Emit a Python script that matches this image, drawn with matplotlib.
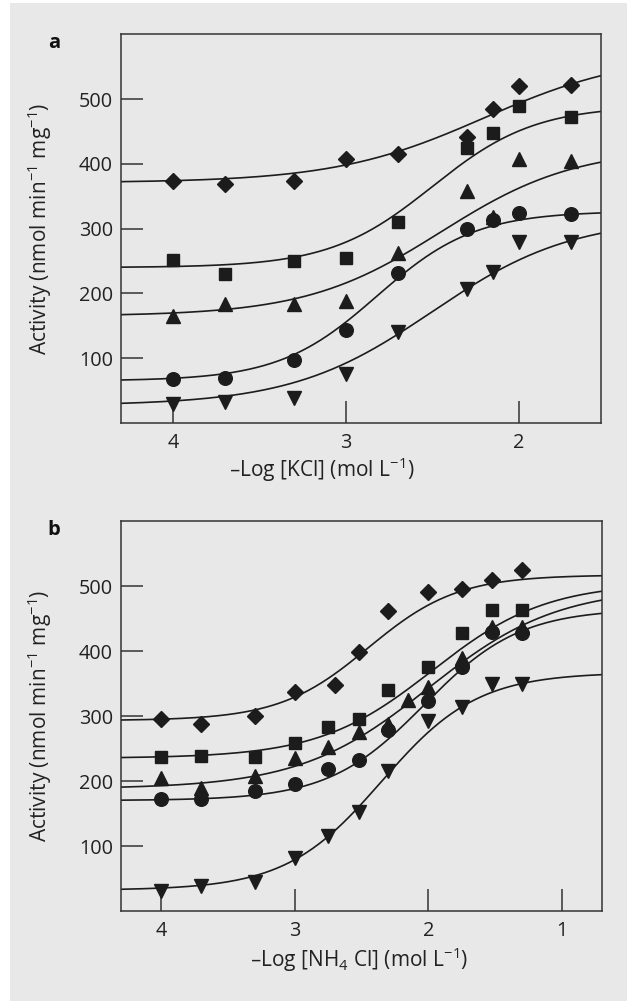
import numpy as np
import matplotlib
matplotlib.use("Agg")
import matplotlib.pyplot as plt
from matplotlib.patches import Rectangle

plt.rcParams['font.family'] = ['Open Sans', 'DejaVu Sans']
plt.rcParams['mathtext.default'] = 'regular'

# ---------------- data: panel a (KCl) ----------------
a_x = [4.0, 3.7, 3.3, 3.0, 2.7, 2.3, 2.15, 2.0, 1.7]
a_diamond = [373, 369, 373, 407, 415, 441, 485, 521, 522]
a_square = [251, 230, 250, 254, 310, 425, 448, 490, 472]
a_triup = [165, 184, 183, 188, 262, 358, 318, 408, 404]
a_circle = [68, 69, 97, 144, 231, 299, 313, 324, 322]
a_tridown = [30, 33, 39, 76, 140, 207, 233, 280, 280]
# fitted curve parameters: bottom, amplitude, midpoint (-log), Hill slope
a_fit_diamond = [371, 200, 2.20, 1.00]
a_fit_square = [240, 250, 2.50, 1.46]
a_fit_triup = [165, 260, 2.45, 1.11]
a_fit_circle = [65, 262, 2.82, 1.53]
a_fit_tridown = [27, 290, 2.50, 1.07]

# ---------------- data: panel b (NH4Cl) ----------------
b_x = [4.0, 3.7, 3.3, 3.0, 2.75, 2.52, 2.3, 2.0, 1.75, 1.52, 1.3]
b_x_diamond = [4.0, 3.7, 3.3, 3.0, 2.7, 2.52, 2.3, 2.0, 1.75, 1.52, 1.3]
b_x_triup = [4.0, 3.7, 3.3, 3.0, 2.75, 2.52, 2.3, 2.15, 2.0, 1.75, 1.52, 1.3]
b_diamond = [295, 287, 300, 337, 347, 398, 462, 491, 495, 510, 524]
b_square = [237, 239, 237, 259, 283, 296, 340, 375, 427, 463, 463]
b_triup = [204, 190, 208, 236, 252, 276, 288, 325, 345, 389, 437, 437]
b_circle = [172, 172, 184, 195, 218, 233, 278, 323, 376, 429, 428]
b_tridown = [31, 39, 45, 82, 115, 153, 216, 292, 314, 349, 349]
b_fit_diamond = [293, 224, 2.45, 1.30]
b_fit_square = [235, 270, 1.97, 1.02]
b_fit_triup = [188, 310, 2.00, 0.90]
b_fit_circle = [170, 295, 2.03, 1.21]
b_fit_tridown = [32, 335, 2.35, 1.21]

a_ticks = [4, 3, 2]
b_ticks = [4, 3, 2, 1]
y_ticks = [100, 200, 300, 400, 500]


def hill(x, p):
    bottom, amp, mid, n = p
    return bottom + amp / (1.0 + 10 ** (n * (x - mid)))


BG = '#e8e8e8'
INK = '#1c1c1c'
SPINE = '#333333'

fig = plt.figure(figsize=(6.27, 10.01), dpi=100, facecolor='white')
fig.patches.append(Rectangle((10 / 627, 0), 1 - 10 / 627, 1 - 3 / 1001,
                             transform=fig.transFigure, facecolor=BG,
                             edgecolor='none', zorder=-10))

ax_a = fig.add_axes([0.1933, 0.5774, 0.7649, 0.3883])
ax_b = fig.add_axes([0.1933, 0.0899, 0.7668, 0.3896])

marker_style = {
    'diamond': dict(marker='D', ms=8.2),
    'square': dict(marker='s', ms=8.8),
    'triup': dict(marker='^', ms=10.0),
    'circle': dict(marker='o', ms=9.8),
    'tridown': dict(marker='v', ms=10.0),
}


def draw_panel(ax, series, xlim, xticks, xlabel, xlab_pos, letter, letter_y):
    ax.set_facecolor('none')
    xs = np.linspace(xlim[0], xlim[1], 400)
    for key, xv, yv, fit in series:
        ax.plot(xs, hill(xs, fit), color=INK, lw=1.2, zorder=2)
        ax.plot(xv, yv, linestyle='none', color=INK, mec=INK, zorder=3,
                **marker_style[key])
    ax.set_xlim(*xlim)
    ax.set_ylim(0, 600)
    ax.set_xticks(xticks)
    ax.set_yticks(y_ticks)
    ax.tick_params(direction='in', length=15.6, width=1.1, color=SPINE,
                   labelsize=14.3, labelcolor='#222222', top=False, right=False)
    ax.tick_params(axis='y', pad=6.0)
    ax.tick_params(axis='x', pad=7.0)
    for s in ax.spines.values():
        s.set_color(SPINE)
        s.set_linewidth(1.1)
    ax.set_ylabel('Activity (nmol min$^{-1}$ mg$^{-1}$)', fontsize=15,
                  color='#222222')
    ax.yaxis.set_label_coords(-0.14, 0.5)
    ax.set_xlabel(xlabel, fontsize=15, color='#222222', va='center')
    ax.xaxis.set_label_coords(*xlab_pos)
    fig.text(54 / 627, letter_y, letter, fontsize=14.5, fontweight='bold',
             ha='center', va='center', color='#111111')


draw_panel(ax_a,
           [('diamond', a_x, a_diamond, a_fit_diamond),
            ('square', a_x, a_square, a_fit_square),
            ('triup', a_x, a_triup, a_fit_triup),
            ('circle', a_x, a_circle, a_fit_circle),
            ('tridown', a_x, a_tridown, a_fit_tridown)],
           (4.3, 1.525), a_ticks, '\u2013Log [KCl] (mol L$^{-1}$)',
           (0.418, -0.12), 'a', 1 - 43 / 1001)

draw_panel(ax_b,
           [('diamond', b_x_diamond, b_diamond, b_fit_diamond),
            ('square', b_x, b_square, b_fit_square),
            ('triup', b_x_triup, b_triup, b_fit_triup),
            ('circle', b_x, b_circle, b_fit_circle),
            ('tridown', b_x, b_tridown, b_fit_tridown)],
           (4.3, 0.70), b_ticks, '\u2013Log [NH$_4$ Cl] (mol L$^{-1}$)',
           (0.494, -0.126), 'b', 1 - 530 / 1001)

fig.savefig('out.png', dpi=100, facecolor='white')
